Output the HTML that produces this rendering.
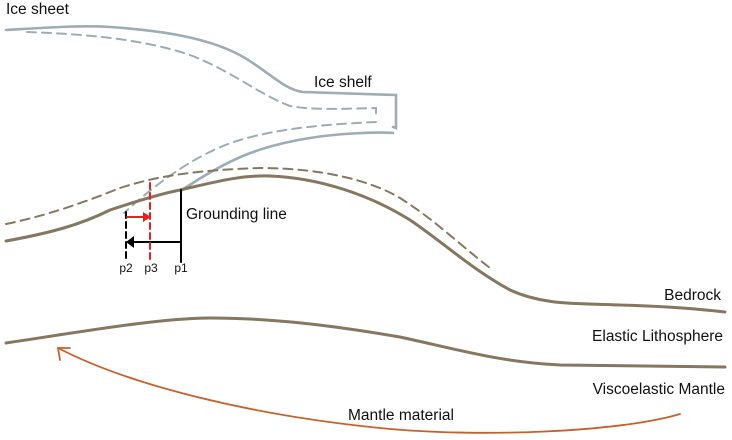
<!DOCTYPE html>
<html><head><style>body{margin:0;background:#fff}svg{display:block}text{font-family:"Liberation Sans",Arial,sans-serif;fill:#111}</style></head>
<body>
<svg width="732" height="440" viewBox="0 0 732 440" xmlns="http://www.w3.org/2000/svg">
<g fill="none" stroke-linecap="round">
<!-- ice solid -->
<path d="M6,30 C40,28 80,25 110,27 C170,31 215,40 245,58 C270,73 285,90 303,92 L396,95 L396,128 L393,127" stroke="#9cadb5" stroke-width="2.6"/>
<path d="M393,133 C380,132 340,133 310,138 C260,146 230,158 182,190" stroke="#9cadb5" stroke-width="2.6"/>
<path d="M27,32 C80,34 140,38 190,55 C230,70 260,95 290,106 C310,110 340,109 376,108 L376,115" stroke="#9cadb5" stroke-width="2" stroke-dasharray="9,6"/>
<path d="M376,122 C330,124 280,128 240,140 C200,152 160,180 124,213" stroke="#9cadb5" stroke-width="2" stroke-dasharray="9,6"/>
<!-- bedrock -->
<path d="M6,241 C50,233 80,225 110,210 C140,200 165,193 180,190 C215,182 240,175 270,176 C320,178 370,195 410,220 C440,240 470,268 510,290 C545,306 580,303 620,305 C660,306 700,309 725,312" stroke="#857760" stroke-width="3"/>
<path d="M6,224 C50,215 90,200 120,188 C160,175 200,170 260,168 C320,168 370,180 400,198 C435,220 460,245 490,268" stroke="#857760" stroke-width="2" stroke-dasharray="9,6"/>
<!-- lithosphere -->
<path d="M6,343 C80,332 160,318 210,318 C270,318 330,325 400,337 C460,350 500,362 560,365 C620,366 680,366 725,367" stroke="#857760" stroke-width="3"/>
<!-- mantle arrow -->
<path d="M680,414 C620,432 480,438 380,428 C250,415 130,385 60,349" stroke="#c8602a" stroke-width="1.8"/>
<path d="M60,360 L58,348 L70,348" stroke="#c8602a" stroke-width="1.8"/>
<!-- grounding -->
<line x1="181" y1="190" x2="181" y2="262" stroke="#000" stroke-width="2"/>
<line x1="181" y1="242" x2="132" y2="242" stroke="#000" stroke-width="2"/>
<path d="M134,236 L126,242 L134,248 Z" fill="#000" stroke="none"/>
<line x1="126" y1="212" x2="126" y2="262" stroke="#000" stroke-width="2" stroke-dasharray="6,4"/>
<line x1="150" y1="183" x2="150" y2="262" stroke="#e82020" stroke-width="2" stroke-dasharray="6,4"/>
<line x1="127" y1="217" x2="145" y2="217" stroke="#e82020" stroke-width="2"/>
<path d="M143,212 L151,217 L143,222 Z" fill="#e82020" stroke="none"/>
</g>
<g font-size="15.5">
<text x="6" y="14">Ice sheet</text>
<text x="314" y="87">Ice shelf</text>
<text x="186" y="219">Grounding line</text>
<text x="721" y="300" text-anchor="end">Bedrock</text>
<text x="723" y="341" text-anchor="end">Elastic Lithosphere</text>
<text x="725" y="394" text-anchor="end">Viscoelastic Mantle</text>
<text x="348" y="420">Mantle material</text>
</g>
<g font-size="12" text-anchor="middle">
<text x="126" y="272">p2</text>
<text x="151" y="272">p3</text>
<text x="181" y="272">p1</text>
</g>
</svg>
</body></html>
